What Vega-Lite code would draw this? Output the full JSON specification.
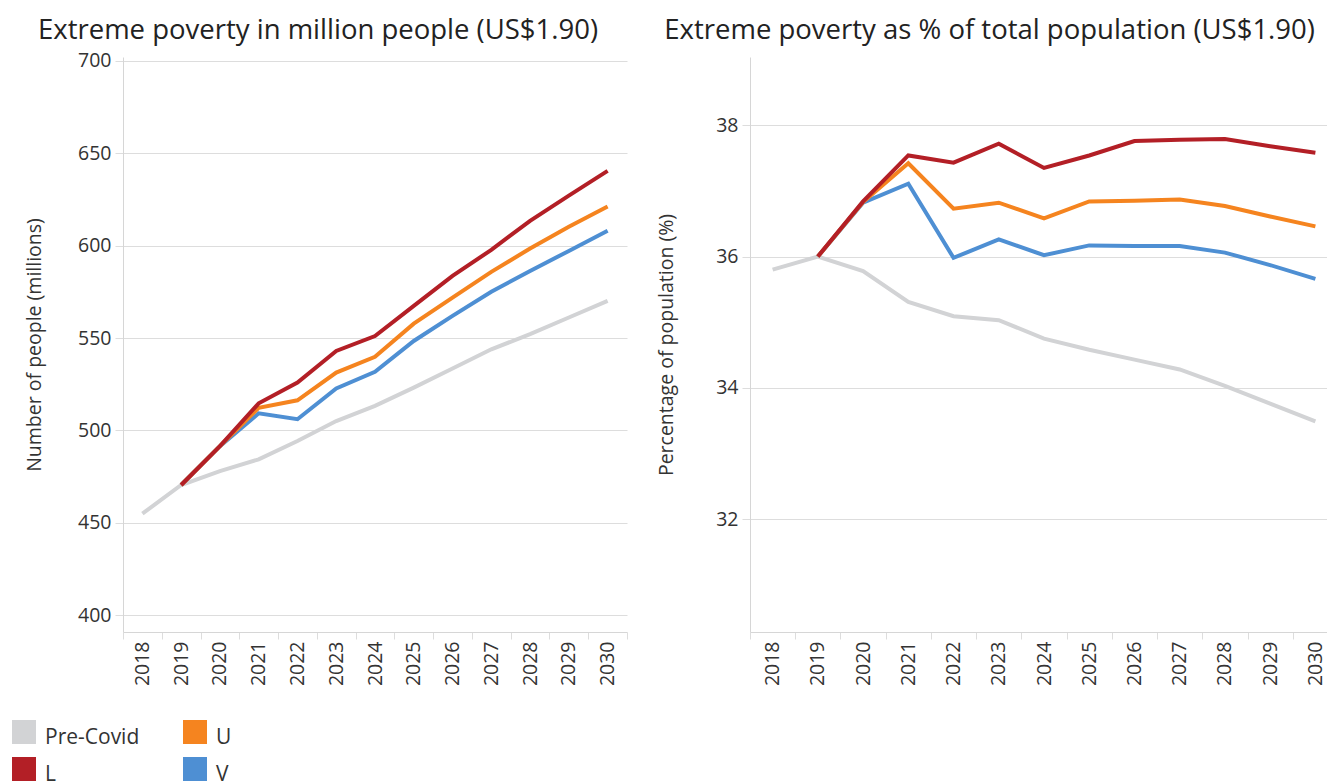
{
  "$schema": "https://vega.github.io/schema/vega-lite/v6.json",
  "padding": {"left": 12, "top": 16, "right": 0, "bottom": 0},
  "datasets": {
    "people": [
      {"year": "2018", "scenario": "Pre-Covid", "value": 455.0},
      {"year": "2019", "scenario": "Pre-Covid", "value": 470.5},
      {"year": "2020", "scenario": "Pre-Covid", "value": 478.0},
      {"year": "2021", "scenario": "Pre-Covid", "value": 484.4},
      {"year": "2022", "scenario": "Pre-Covid", "value": 494.3},
      {"year": "2023", "scenario": "Pre-Covid", "value": 505.1},
      {"year": "2024", "scenario": "Pre-Covid", "value": 513.3},
      {"year": "2025", "scenario": "Pre-Covid", "value": 523.2},
      {"year": "2026", "scenario": "Pre-Covid", "value": 533.5},
      {"year": "2027", "scenario": "Pre-Covid", "value": 543.9},
      {"year": "2028", "scenario": "Pre-Covid", "value": 552.1},
      {"year": "2029", "scenario": "Pre-Covid", "value": 561.1},
      {"year": "2030", "scenario": "Pre-Covid", "value": 570.1},
      {"year": "2019", "scenario": "V", "value": 470.5},
      {"year": "2020", "scenario": "V", "value": 491.5},
      {"year": "2021", "scenario": "V", "value": 509.3},
      {"year": "2022", "scenario": "V", "value": 506.1},
      {"year": "2023", "scenario": "V", "value": 522.7},
      {"year": "2024", "scenario": "V", "value": 531.7},
      {"year": "2025", "scenario": "V", "value": 548.4},
      {"year": "2026", "scenario": "V", "value": 562.0},
      {"year": "2027", "scenario": "V", "value": 575.0},
      {"year": "2028", "scenario": "V", "value": 586.3},
      {"year": "2029", "scenario": "V", "value": 597.1},
      {"year": "2030", "scenario": "V", "value": 608.0},
      {"year": "2019", "scenario": "U", "value": 470.5},
      {"year": "2020", "scenario": "U", "value": 491.5},
      {"year": "2021", "scenario": "U", "value": 512.3},
      {"year": "2022", "scenario": "U", "value": 516.3},
      {"year": "2023", "scenario": "U", "value": 531.3},
      {"year": "2024", "scenario": "U", "value": 539.8},
      {"year": "2025", "scenario": "U", "value": 557.8},
      {"year": "2026", "scenario": "U", "value": 571.9},
      {"year": "2027", "scenario": "U", "value": 585.8},
      {"year": "2028", "scenario": "U", "value": 598.4},
      {"year": "2029", "scenario": "U", "value": 610.2},
      {"year": "2030", "scenario": "U", "value": 621.1},
      {"year": "2019", "scenario": "L", "value": 470.5},
      {"year": "2020", "scenario": "L", "value": 491.5},
      {"year": "2021", "scenario": "L", "value": 514.7},
      {"year": "2022", "scenario": "L", "value": 525.9},
      {"year": "2023", "scenario": "L", "value": 543.0},
      {"year": "2024", "scenario": "L", "value": 551.1},
      {"year": "2025", "scenario": "L", "value": 567.4},
      {"year": "2026", "scenario": "L", "value": 583.6},
      {"year": "2027", "scenario": "L", "value": 597.7},
      {"year": "2028", "scenario": "L", "value": 613.4},
      {"year": "2029", "scenario": "L", "value": 627.0},
      {"year": "2030", "scenario": "L", "value": 640.4}
    ],
    "pct": [
      {"year": "2018", "scenario": "Pre-Covid", "value": 35.80},
      {"year": "2019", "scenario": "Pre-Covid", "value": 36.00},
      {"year": "2020", "scenario": "Pre-Covid", "value": 35.78},
      {"year": "2021", "scenario": "Pre-Covid", "value": 35.31},
      {"year": "2022", "scenario": "Pre-Covid", "value": 35.09},
      {"year": "2023", "scenario": "Pre-Covid", "value": 35.03},
      {"year": "2024", "scenario": "Pre-Covid", "value": 34.75},
      {"year": "2025", "scenario": "Pre-Covid", "value": 34.58},
      {"year": "2026", "scenario": "Pre-Covid", "value": 34.43},
      {"year": "2027", "scenario": "Pre-Covid", "value": 34.28},
      {"year": "2028", "scenario": "Pre-Covid", "value": 34.03},
      {"year": "2029", "scenario": "Pre-Covid", "value": 33.76},
      {"year": "2030", "scenario": "Pre-Covid", "value": 33.49},
      {"year": "2019", "scenario": "V", "value": 36.00},
      {"year": "2020", "scenario": "V", "value": 36.82},
      {"year": "2021", "scenario": "V", "value": 37.11},
      {"year": "2022", "scenario": "V", "value": 35.98},
      {"year": "2023", "scenario": "V", "value": 36.26},
      {"year": "2024", "scenario": "V", "value": 36.02},
      {"year": "2025", "scenario": "V", "value": 36.17},
      {"year": "2026", "scenario": "V", "value": 36.16},
      {"year": "2027", "scenario": "V", "value": 36.16},
      {"year": "2028", "scenario": "V", "value": 36.06},
      {"year": "2029", "scenario": "V", "value": 35.87},
      {"year": "2030", "scenario": "V", "value": 35.66},
      {"year": "2019", "scenario": "U", "value": 36.00},
      {"year": "2020", "scenario": "U", "value": 36.83},
      {"year": "2021", "scenario": "U", "value": 37.42},
      {"year": "2022", "scenario": "U", "value": 36.73},
      {"year": "2023", "scenario": "U", "value": 36.82},
      {"year": "2024", "scenario": "U", "value": 36.58},
      {"year": "2025", "scenario": "U", "value": 36.84},
      {"year": "2026", "scenario": "U", "value": 36.85},
      {"year": "2027", "scenario": "U", "value": 36.87},
      {"year": "2028", "scenario": "U", "value": 36.77},
      {"year": "2029", "scenario": "U", "value": 36.61},
      {"year": "2030", "scenario": "U", "value": 36.46},
      {"year": "2019", "scenario": "L", "value": 36.00},
      {"year": "2020", "scenario": "L", "value": 36.84},
      {"year": "2021", "scenario": "L", "value": 37.54},
      {"year": "2022", "scenario": "L", "value": 37.43},
      {"year": "2023", "scenario": "L", "value": 37.72},
      {"year": "2024", "scenario": "L", "value": 37.35},
      {"year": "2025", "scenario": "L", "value": 37.54},
      {"year": "2026", "scenario": "L", "value": 37.76},
      {"year": "2027", "scenario": "L", "value": 37.78},
      {"year": "2028", "scenario": "L", "value": 37.79},
      {"year": "2029", "scenario": "L", "value": 37.68},
      {"year": "2030", "scenario": "L", "value": 37.58}
    ]
  },
  "hconcat": [
    {
      "width": 504,
      "height": 575,
      "title": {"text": "Extreme poverty in million people (US$1.90)", "frame": "bounds", "dx": -8, "dy": 6},
      "data": {"name": "people"},
      "mark": {"type": "line", "strokeWidth": 4},
      "encoding": {
        "x": {
          "field": "year", "type": "ordinal",
          "scale": {"type": "band", "paddingInner": 0, "paddingOuter": 0},
          "axis": {"title": null, "labelAngle": 270, "labelAlign": "right", "labelBaseline": "middle", "tickBand": "extent", "tickSize": 7, "labelPadding": 2, "grid": false}
        },
        "y": {
          "field": "value", "type": "quantitative",
          "scale": {"domain": [391, 702], "nice": false, "zero": false},
          "axis": {"values": [400, 450, 500, 550, 600, 650, 700], "title": "Number of people (millions)", "titlePadding": 33}
        },
        "color": {
          "field": "scenario", "type": "nominal",
          "scale": {"domain": ["Pre-Covid", "U", "L", "V"], "range": ["#d2d3d5", "#f5841f", "#b31f26", "#4e8fd3"]},
          "legend": {
            "title": null, "orient": "none", "legendX": -111, "legendY": 663,
            "columns": 2, "direction": "horizontal",
            "symbolType": "square", "symbolSize": 576, "symbolStrokeWidth": 0,
            "labelFontSize": 21, "labelColor": "#333333", "labelOffset": 9,
            "columnPadding": 43, "rowPadding": 9,
            "encode": {
              "symbols": {"update": {"fill": {"scale": "color", "field": "value"}, "strokeWidth": {"value": 0}}},
              "labels": {"update": {"dy": {"value": 6}}}
            }
          }
        }
      }
    },
    {
      "width": 588,
      "height": 575,
      "title": {"text": "Extreme poverty as % of total population (US$1.90)", "frame": "bounds", "dx": -8, "dy": -1},
      "data": {"name": "pct"},
      "mark": {"type": "line", "strokeWidth": 4},
      "encoding": {
        "x": {
          "field": "year", "type": "ordinal",
          "scale": {"type": "band", "paddingInner": 0, "paddingOuter": 0},
          "axis": {"title": null, "labelAngle": 270, "labelAlign": "right", "labelBaseline": "middle", "tickBand": "extent", "tickSize": 7, "labelPadding": 2, "grid": false}
        },
        "y": {
          "field": "value", "type": "quantitative",
          "scale": {"domain": [30.28, 39.04], "nice": false, "zero": false},
          "axis": {"values": [32, 34, 36, 38], "title": "Percentage of population (%)", "titlePadding": 39}
        },
        "color": {
          "field": "scenario", "type": "nominal",
          "scale": {"domain": ["Pre-Covid", "U", "L", "V"], "range": ["#d2d3d5", "#f5841f", "#b31f26", "#4e8fd3"]}
        }
      }
    }
  ],
  "spacing": 28,
  "config": {
    "font": "Open Sans",
    "view": {"stroke": null},
    "title": {"fontSize": 27.5, "fontWeight": "normal", "color": "#222222", "anchor": "middle", "offset": 12},
    "axis": {
      "labelFontSize": 19.5, "labelColor": "#333333",
      "titleFontSize": 19.5, "titleFontWeight": "normal", "titleColor": "#333333",
      "domainColor": "#d6d6d6", "tickColor": "#dddddd", "gridColor": "#dddddd",
      "labelPadding": 4
    },
    "axisY": {"tickSize": 8, "domain": true},
    "axisX": {"domain": true}
  }
}
